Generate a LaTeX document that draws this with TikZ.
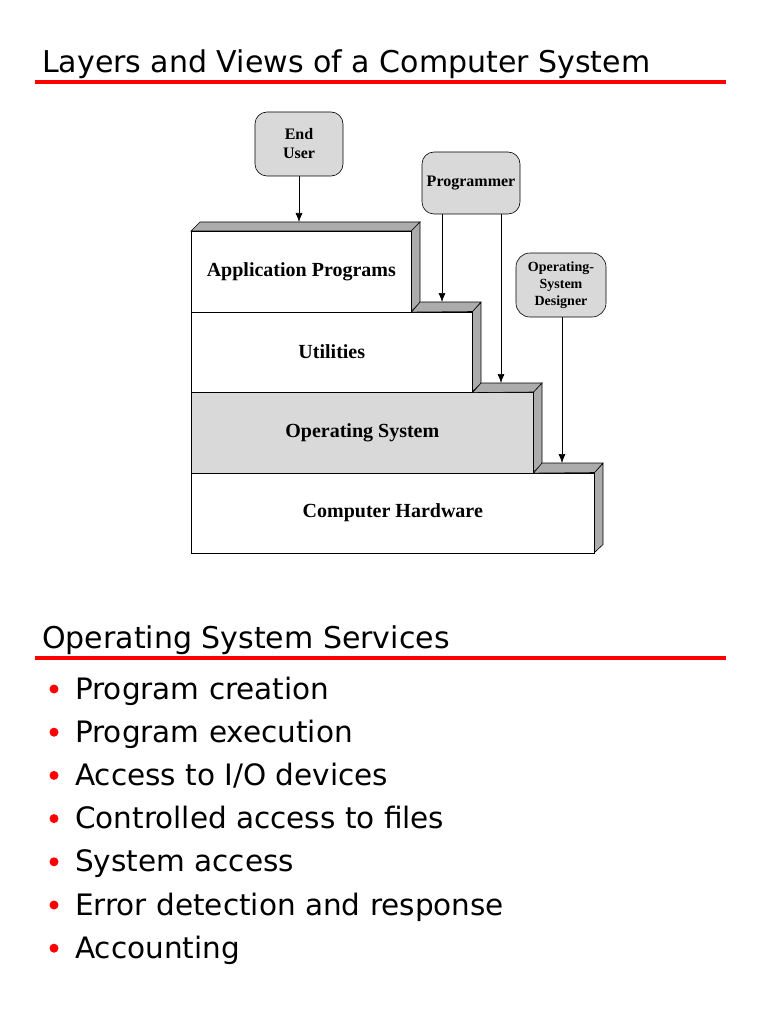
\documentclass[tikz,border=0pt]{standalone}
\usepackage{fontspec}
\setmainfont{DejaVu Sans}
\newfontfamily\layerfont{Liberation Serif}
\usetikzlibrary{arrows,arrows.meta,positioning}
\tikzset{
  layer/.style={draw,semithick,anchor=north west,inner sep=0pt,font=\layerfont\bfseries\fontsize{20}{22}\selectfont},
  actor/.style={draw,semithick,rounded corners=12pt,fill=gray!30,align=center,inner sep=0pt,font=\layerfont\bfseries\fontsize{16}{19}\selectfont},
  rim/.style={draw,semithick,fill=gray!65},
  link/.style={-{Latex[length=9pt,width=7pt]},semithick},
  redrule/.style={red,line width=4pt},
  item/.style={anchor=base west,inner sep=0pt,font=\fontsize{29.5}{32}\selectfont}
}
\begin{document}
\begin{tikzpicture}[x=1pt,y=-1pt]
\useasboundingbox (0,0) rectangle (768,1024);
% titles
\node[anchor=base west,inner sep=0pt,font=\fontsize{30}{32}\selectfont] (t1) at (42,73) {Layers and Views of a Computer System};
\draw[redrule] (35,82) -- (726,82);
\node[anchor=base west,inner sep=0pt,font=\fontsize{30}{32}\selectfont] (t2) at (42,648) {Operating System Services};
\draw[redrule] (35,658) -- (726,658);
% layers
\foreach \n/\r/\t/\f [count=\i] in {app/411/Application Programs/white,util/472/Utilities/white,os/533/Operating System/gray!30,hw/594/Computer Hardware/white}{
  \pgfmathsetmacro\top{231+80.5*(\i-1)}
  \pgfmathsetmacro\w{\r-191}
  \fill[rim] (\r,\top) -- (\r+9,\top-9) -- (\r+9,\top+72) -- (\r,\top+80.5) -- cycle;
  \node[layer,fill=\f,minimum width=\w pt,minimum height=80.5pt] (\n) at (191,\top) {\t};
}
\draw[rim] (191,231) -- (200,222) -- (420,222) -- (411,231) -- cycle;
\draw[rim] (app.south east) -- (420,302) -- (481,302) -- (util.north east) -- cycle;
\draw[rim] (util.south east) -- (481,383) -- (542,383) -- (os.north east) -- cycle;
\draw[rim] (os.south east) -- (542,463) -- (603,463) -- (hw.north east) -- cycle;
% actors
\node[actor,minimum width=88pt,minimum height=64pt] (user) at (299,144) {End\\User};
\node[actor,minimum width=98pt,minimum height=62pt] (prog) at (471,183) {Programmer};
\node[actor,minimum width=90pt,minimum height=64pt,rounded corners=14pt,font=\layerfont\bfseries\fontsize{14}{17}\selectfont] (osd) at (561,285) {Operating-\\System\\Designer};
\coordinate (c1) at (299,222);
\coordinate (c2) at (442,302);
\coordinate (c3) at (501,383);
\coordinate (c4) at (562,463);
\draw[link] (user.south) -- (c1);
\draw[link] (prog.south -| c2) -- (c2);
\draw[link] (prog.south -| c3) -- (c3);
\draw[link] (osd.south -| c4) -- (c4);
% services
\foreach \s [count=\i] in {Program creation,Program execution,Access to I/O devices,Controlled access to files,System access,Error detection and response,Accounting}{
  \node[item] (s\i) at (75,699+43.2*\i-43.2) {\s};
  \fill[red] (54,689+43.2*\i-43.2) circle (4.5pt);
}
\end{tikzpicture}
\end{document}
